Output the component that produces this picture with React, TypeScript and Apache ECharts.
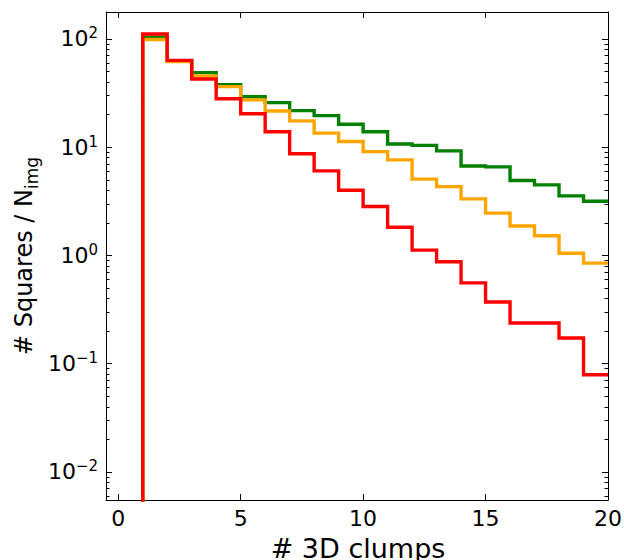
import React, { useEffect, useRef } from "react";
import * as echarts from "echarts";

// Bin edges 1..20 ; value per bin [i, i+1)
const binStarts = [1, 2, 3, 4, 5, 6, 7, 8, 9, 10, 11, 12, 13, 14, 15, 16, 17, 18, 19];
const greenValues = [104, 63, 48.9, 37.8, 29.3, 25.8, 21.8, 19.6, 16.3, 13.9, 10.7, 10.4, 9.25, 6.71, 6.58, 4.92, 4.49, 3.55, 3.17];
const orangeValues = [99, 62, 45.5, 36.3, 27.4, 21.6, 17.5, 13.5, 11.3, 9.1, 7.64, 5.07, 4.33, 3.33, 2.46, 1.87, 1.52, 1.05, 0.85];
const redValues = [111, 63.5, 42.7, 28, 20.4, 13.9, 8.7, 6.05, 4.0, 2.83, 1.82, 1.12, 0.875, 0.558, 0.372, 0.238, 0.238, 0.173, 0.079];
const lastEdge = 20;

const xTicks = [0, 5, 10, 15, 20];
const yDecades = [-2, -1, 0, 1, 2];
const yMinValue = 0.00551;
const yMaxValue = 177.5;

const FONT = "DejaVu Sans";

function stepData(values: number[]) {
  const pts: number[][] = [[binStarts[0], -4]];
  values.forEach((v, i) => pts.push([binStarts[i], Math.log10(v)]));
  pts.push([lastEdge, Math.log10(values[values.length - 1])]);
  return pts;
}

export default function App() {
  const ref = useRef<HTMLDivElement>(null);
  useEffect(() => {
    if (!ref.current) return;
    const chart = echarts.init(ref.current, undefined, { renderer: "svg" });
    const yMin = Math.log10(yMinValue);
    const yMax = Math.log10(yMaxValue);
    const minor: number[] = [];
    for (let n = -3; n <= 2; n++) {
      for (let k = 2; k <= 9; k++) {
        const v = Math.log10(k) + n;
        if (v > yMin && v < yMax) minor.push(v);
      }
    }
    const supText = (n: number) => (n < 0 ? "\u2212" + Math.abs(n) : String(n));
    const line = { lineStyle: { color: "#000", width: 1 } };
    const baseY = {
      type: "value" as const,
      min: yMin,
      max: yMax,
      splitLine: { show: false },
    };
    const series = [
      { name: "g", color: "#008000", values: greenValues },
      { name: "o", color: "#FFA500", values: orangeValues },
      { name: "r", color: "#FF0000", values: redValues },
    ].map((s) => ({
      type: "line" as const,
      name: s.name,
      data: stepData(s.values),
      step: "end" as const,
      showSymbol: false,
      symbol: "none",
      clip: true,
      lineStyle: { color: s.color, width: 3.4, join: "miter" },
      itemStyle: { color: s.color },
      xAxisIndex: 0,
      yAxisIndex: 0,
    }));
    chart.setOption({
      animation: false,
      textStyle: { fontFamily: FONT },
      grid: { left: 106, right: 16, top: 12, bottom: 60, containLabel: false, outerBoundsMode: "none" },
      xAxis: [
        {
          type: "value",
          min: -0.5,
          max: 20,
          position: "bottom",
          axisLine: { show: true, onZero: false, ...line },
          axisTick: { show: true, inside: true, length: 6, customValues: xTicks, lineStyle: { color: "#000", width: 1 } },
          axisLabel: { show: true, customValues: xTicks, margin: 7, fontSize: 22, color: "#000", fontFamily: FONT },
          splitLine: { show: false },
        },
        {
          type: "value",
          min: -0.5,
          max: 20,
          position: "top",
          axisLine: { show: true, onZero: false, ...line },
          axisTick: { show: true, inside: true, length: 6, customValues: xTicks, lineStyle: { color: "#000", width: 1 } },
          axisLabel: { show: false },
          splitLine: { show: false },
        },
      ],
      yAxis: [
        {
          ...baseY,
          position: "left",
          axisLine: { show: true, onZero: false, ...line },
          axisTick: { show: true, inside: true, length: 6, customValues: yDecades, lineStyle: { color: "#000", width: 1 } },
          axisLabel: {
            show: true,
            customValues: yDecades,
            margin: 8,
            color: "#000",
            formatter: (v: number) => "{b|10}{s|" + supText(Math.round(v)) + "}",
            rich: {
              b: { fontSize: 22, fontFamily: FONT, color: "#000", lineHeight: 26 },
              s: { fontSize: 15, fontFamily: FONT, color: "#000", verticalAlign: "top" },
            },
          },
        },
        {
          ...baseY,
          position: "left",
          axisLine: { show: false, onZero: false },
          axisTick: { show: true, inside: true, length: 3.5, customValues: minor, lineStyle: { color: "#000", width: 1 } },
          axisLabel: { show: false },
        },
        {
          ...baseY,
          position: "right",
          axisLine: { show: true, onZero: false, ...line },
          axisTick: { show: true, inside: true, length: 6, customValues: yDecades, lineStyle: { color: "#000", width: 1 } },
          axisLabel: { show: false },
        },
        {
          ...baseY,
          position: "right",
          axisLine: { show: false, onZero: false },
          axisTick: { show: true, inside: true, length: 3.5, customValues: minor, lineStyle: { color: "#000", width: 1 } },
          axisLabel: { show: false },
        },
      ],
      graphic: [
        {
          type: "text",
          x: 358,
          y: 548,
          style: {
            text: "# 3D clumps",
            fontSize: 27,
            fontFamily: FONT,
            fill: "#000",
            align: "center",
            verticalAlign: "middle",
          },
        },
        {
          type: "text",
          x: 24,
          y: 256,
          rotation: Math.PI / 2,
          style: {
            text: "{a|# Squares / N}{s|img}",
            fontFamily: FONT,
            fill: "#000",
            align: "center",
            verticalAlign: "middle",
            rich: {
              a: { fontSize: 24, fontFamily: FONT, fill: "#000", lineHeight: 36 },
              s: { fontSize: 17, fontFamily: FONT, fill: "#000", verticalAlign: "top", padding: [17, 0, 0, 0] },
            },
          },
        },
      ],
      series,
    });
    return () => chart.dispose();
  }, []);
  return (
    <div
      ref={ref}
      style={{ position: "fixed", left: 0, top: 0, width: 624, height: 560, background: "#fff" }}
    />
  );
}
